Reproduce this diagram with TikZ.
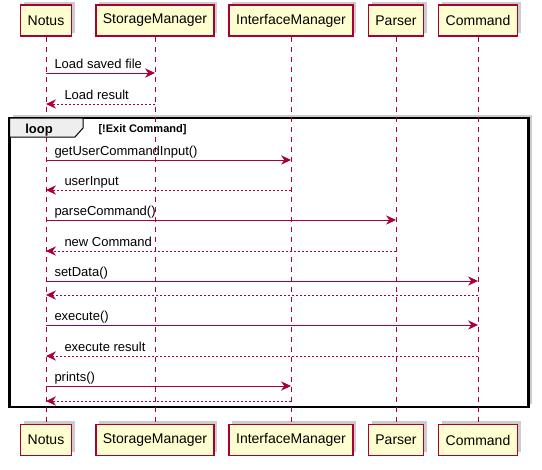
\documentclass[tikz,border=0pt]{standalone}
\usepackage{fontspec}
\setmainfont{Liberation Sans}
\usetikzlibrary{arrows.meta,shadows}

\definecolor{umlred}{HTML}{A80036}
\definecolor{umlfill}{HTML}{FEFECE}
\definecolor{tabgray}{HTML}{EEEEEE}

\tikzset{every picture/.style={line width=0.75pt}}
\tikzset{
  boxshadow/.style={drop shadow={shadow xshift=2.5pt,shadow yshift=2.5pt,fill=black!50,opacity=0.4}},
  party/.style={draw=umlred,fill=umlfill,line width=1.1pt,inner xsep=5.25pt,inner ysep=0pt,minimum height=23.25pt,font=\fontsize{10.5pt}{12pt}\selectfont,boxshadow},
  lifeline/.style={umlred,dash pattern=on 3.75pt off 3.75pt},
  msgcall/.style={umlred,-{Stealth[length=7.5pt,width=7pt,inset=2.5pt]}},
  msgreply/.style={msgcall,dash pattern=on 1.5pt off 1.5pt},
  msgtext/.style={anchor=base west,inner sep=0pt,font=\fontsize{9.75pt}{11pt}\selectfont},
}

\begin{document}
\begin{tikzpicture}[x=0.75pt,y=0.75pt,yscale=-1,xscale=1]
			\useasboundingbox (0,0) rectangle (542,469);
			
			%Loop frame
			\draw [line width=1.6pt,fill=white,boxshadow] (9.5,118) rectangle (528.5,407);
			
			%Participants, top row
			\node [party] (notusTop) at (46,20.5) {Notus};
			\node [party] (storageTop) at (155,20.5) {StorageManager};
			\node [party] (ifaceTop) at (291,20.5) {InterfaceManager};
			\node [party] (parserTop) at (396,20.5) {Parser};
			\node [party] (commandTop) at (478,20.5) {Command};
			%Participants, bottom row
			\node [party] (notusBot) at (46,440) {Notus};
			\node [party] (storageBot) at (155,440) {StorageManager};
			\node [party] (ifaceBot) at (291,440) {InterfaceManager};
			\node [party] (parserBot) at (396,440) {Parser};
			\node [party] (commandBot) at (478,440) {Command};
			
			%Lifelines
			\foreach \p in {notus,storage,iface,parser,command}
				\draw [lifeline] (\p Top.south) -- (\p Bot.north);
			
			%Loop tab
			\draw [fill=tabgray] (9.5,118) -- (83,118) -- (83,128) -- (75,137) -- (9.5,137) -- cycle;
			\node [inner sep=0pt,anchor=base,font=\bfseries\fontsize{9.75pt}{11pt}\selectfont] (loopTxt) at (39,133) {loop};
			\node [inner sep=0pt,anchor=base west,font=\bfseries\fontsize{8.25pt}{10pt}\selectfont] (guardTxt) at (98,132) {[!Exit Command]};
			
			%Message ends
			\coordinate (n1) at (46,73);   \coordinate (s1) at (155,73);
			\coordinate (n2) at (46,104);  \coordinate (s2) at (155,104);
			\coordinate (n3) at (46,160);  \coordinate (i3) at (291,160);
			\coordinate (n4) at (46,190);  \coordinate (i4) at (291,190);
			\coordinate (n5) at (46,220);  \coordinate (p5) at (396,220);
			\coordinate (n6) at (46,251);  \coordinate (p6) at (396,251);
			\coordinate (n7) at (46,281);  \coordinate (c7) at (478,281);
			\coordinate (n8) at (46,295);  \coordinate (c8) at (478,295);
			\coordinate (n9) at (46,325);  \coordinate (c9) at (478,325);
			\coordinate (n10) at (46,356); \coordinate (c10) at (478,356);
			\coordinate (n11) at (46,386); \coordinate (i11) at (291,386);
			\coordinate (n12) at (46,401); \coordinate (i12) at (291,401);
			
			%Messages
			\draw [msgcall] (n1) -- (s1);
			\draw [msgreply] (s2) -- (n2);
			\draw [msgcall] (n3) -- (i3);
			\draw [msgreply] (i4) -- (n4);
			\draw [msgcall] (n5) -- (p5);
			\draw [msgreply] (p6) -- (n6);
			\draw [msgcall] (n7) -- (c7);
			\draw [msgreply] (c8) -- (n8);
			\draw [msgcall] (n9) -- (c9);
			\draw [msgreply] (c10) -- (n10);
			\draw [msgcall] (n11) -- (i11);
			\draw [msgreply] (i12) -- (n12);
			
			% Text Node
			\node [msgtext] (t1) at (54,68) {Load saved file};
			% Text Node
			\node [msgtext] (t2) at (64,99) {Load result};
			% Text Node
			\node [msgtext] (t3) at (54,155) {getUserCommandInput()};
			% Text Node
			\node [msgtext] (t4) at (64,185) {userInput};
			% Text Node
			\node [msgtext] (t5) at (54,215) {parseCommand()};
			% Text Node
			\node [msgtext] (t6) at (64,246) {new Command};
			% Text Node
			\node [msgtext] (t7) at (54,276) {setData()};
			% Text Node
			\node [msgtext] (t9) at (54,320) {execute()};
			% Text Node
			\node [msgtext] (t10) at (64,351) {execute result};
			% Text Node
			\node [msgtext] (t11) at (54,381) {prints()};
			
\end{tikzpicture}
\end{document}
